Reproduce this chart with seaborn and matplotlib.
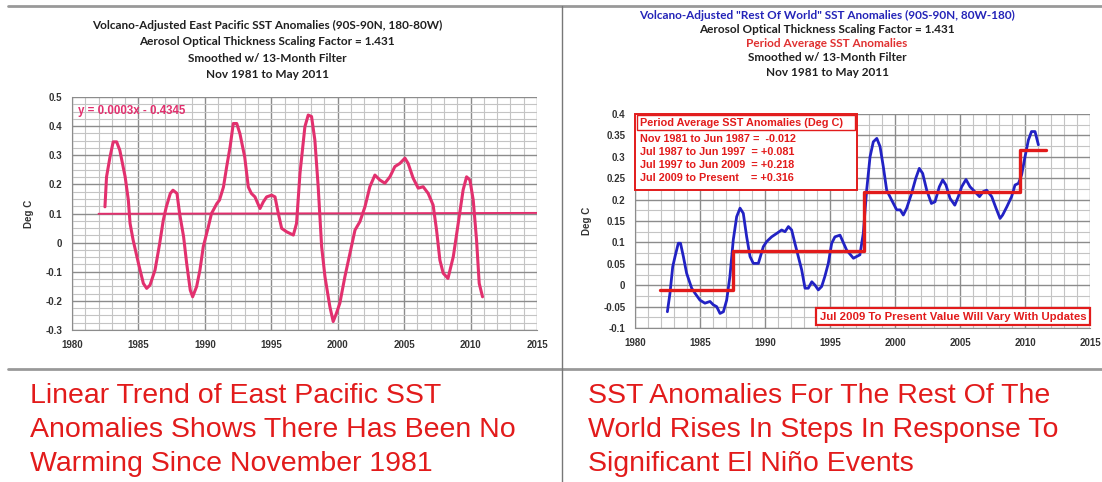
import seaborn as sns
import matplotlib.pyplot as plt
from matplotlib.lines import Line2D
from matplotlib.patches import Rectangle
from matplotlib.ticker import MultipleLocator, FuncFormatter
from matplotlib import font_manager

## 데이터 : East Pacific (왼쪽)
ep_year = [1982.48, 1982.6, 1982.86, 1983.1, 1983.36, 1983.6, 1984.0, 1984.24, 1984.37, 1984.6,
           1985.0, 1985.37, 1985.62, 1985.87, 1986.25, 1986.6, 1986.87, 1987.1, 1987.4, 1987.6,
           1987.9, 1988.1, 1988.4, 1988.63, 1988.9, 1989.08, 1989.38, 1989.63, 1989.88, 1990.26,
           1990.5, 1990.9, 1991.1, 1991.4, 1991.64, 1991.9, 1992.14, 1992.4, 1992.64, 1993.0,
           1993.27, 1993.5, 1993.77, 1994.15, 1994.4, 1994.65, 1995.03, 1995.28, 1995.53, 1995.78,
           1996.16, 1996.66, 1996.9, 1997.16, 1997.53, 1997.78, 1998.03, 1998.28, 1998.53, 1998.79,
           1999.04, 1999.41, 1999.66, 1999.9, 2000.16, 2000.54, 2000.92, 2001.3, 2001.67, 2002.05,
           2002.42, 2002.8, 2003.17, 2003.55, 2003.93, 2004.3, 2004.68, 2005.06, 2005.3, 2005.68,
           2006.06, 2006.43, 2006.81, 2007.18, 2007.44, 2007.69, 2007.94, 2008.3, 2008.7, 2009.07,
           2009.44, 2009.7, 2009.95, 2010.2, 2010.45, 2010.65, 2010.9]
ep_anom = [0.123, 0.226, 0.294, 0.346, 0.346, 0.317, 0.226, 0.146, 0.066, 0.009,
           -0.071, -0.14, -0.157, -0.146, -0.094, -0.003, 0.077, 0.123, 0.169, 0.18,
           0.169, 0.1, 0.02, -0.071, -0.163, -0.186, -0.151, -0.094, -0.014, 0.054,
           0.1, 0.134, 0.146, 0.191, 0.26, 0.329, 0.409, 0.409, 0.374, 0.294,
           0.191, 0.169, 0.157, 0.117, 0.14, 0.157, 0.163, 0.157, 0.1, 0.049,
           0.037, 0.026, 0.066, 0.238, 0.398, 0.438, 0.433, 0.352, 0.192, -0.014,
           -0.117, -0.22, -0.271, -0.243, -0.208, -0.117, -0.037, 0.043, 0.072, 0.123,
           0.192, 0.232, 0.215, 0.204, 0.226, 0.261, 0.272, 0.29, 0.272, 0.221,
           0.187, 0.192, 0.169, 0.129, 0.043, -0.06, -0.105, -0.123, -0.048, 0.066,
           0.181, 0.226, 0.215, 0.146, 0.009, -0.14, -0.186]
trend_year = [1982.0, 2015.0]
trend_val = [0.099, 0.102]
trend_label = "y = 0.0003x - 0.4345"

## 데이터 : Rest Of World (오른쪽)
row_year = [1982.49, 1982.69, 1982.9, 1983.08, 1983.33, 1983.5, 1983.72, 1983.97, 1984.36, 1984.62,
            1985.0, 1985.38, 1985.77, 1986.03, 1986.28, 1986.54, 1986.8, 1987.05, 1987.3, 1987.56,
            1987.82, 1988.08, 1988.33, 1988.59, 1988.85, 1989.1, 1989.49, 1989.87, 1990.13, 1990.51,
            1990.9, 1991.28, 1991.54, 1991.8, 1992.05, 1992.3, 1992.56, 1992.82, 1993.08, 1993.33,
            1993.6, 1993.85, 1994.1, 1994.36, 1994.6, 1994.87, 1995.13, 1995.38, 1995.77, 1996.28,
            1996.8, 1997.3, 1997.56, 1997.82, 1998.08, 1998.33, 1998.6, 1998.85, 1999.1, 1999.36,
            1999.74, 2000.13, 2000.4, 2000.64, 2000.9, 2001.28, 2001.6, 2001.87, 2002.13, 2002.44,
            2002.8, 2003.08, 2003.41, 2003.67, 2003.92, 2004.23, 2004.6, 2004.87, 2005.13, 2005.46,
            2005.77, 2006.03, 2006.5, 2006.8, 2007.05, 2007.44, 2007.77, 2008.08, 2008.28, 2008.6,
            2008.97, 2009.23, 2009.5, 2009.74, 2010.0, 2010.26, 2010.5, 2010.77, 2011.03]
row_anom = [-0.062, -0.019, 0.043, 0.067, 0.098, 0.098, 0.067, 0.028, -0.007, -0.019,
            -0.035, -0.042, -0.038, -0.046, -0.05, -0.066, -0.062, -0.035, 0.02, 0.106,
            0.16, 0.18, 0.168, 0.113, 0.067, 0.051, 0.051, 0.09, 0.102, 0.113,
            0.121, 0.129, 0.125, 0.137, 0.129, 0.098, 0.067, 0.036, -0.007, -0.007,
            0.008, 0.0, -0.011, -0.003, 0.02, 0.051, 0.098, 0.113, 0.117, 0.082,
            0.063, 0.071, 0.121, 0.222, 0.3, 0.335, 0.343, 0.324, 0.277, 0.222,
            0.199, 0.176, 0.176, 0.164, 0.18, 0.215, 0.25, 0.273, 0.261, 0.222,
            0.191, 0.195, 0.23, 0.246, 0.234, 0.203, 0.187, 0.207, 0.23, 0.247,
            0.23, 0.222, 0.207, 0.219, 0.222, 0.207, 0.18, 0.156, 0.164, 0.183,
            0.207, 0.234, 0.238, 0.258, 0.3, 0.339, 0.359, 0.359, 0.328]
step_year = [1981.9, 1987.5, 1987.5, 1997.6, 1997.6, 2009.6, 2009.6, 2011.6]
step_val = [-0.012, -0.012, 0.081, 0.081, 0.218, 0.218, 0.316, 0.316]
period_rows = ["Nov 1981 to Jun 1987 =  -0.012",
               "Jul 1987 to Jun 1997  = +0.081",
               "Jul 1997 to Jun 2009  = +0.218",
               "Jul 2009 to Present    = +0.316"]

## 제목 / 설명문
left_title = ["Volcano-Adjusted East Pacific SST Anomalies (90S-90N, 180-80W)",
              "Aerosol Optical Thickness Scaling Factor = 1.431",
              "Smoothed w/ 13-Month Filter",
              "Nov 1981 to May 2011"]
right_title = ["Volcano-Adjusted \"Rest Of World\" SST Anomalies (90S-90N, 80W-180)",
               "Aerosol Optical Thickness Scaling Factor = 1.431",
               "Period Average SST Anomalies",
               "Smoothed w/ 13-Month Filter",
               "Nov 1981 to May 2011"]
right_title_colors = ["#2424b8", "#202020", "#e03030", "#202020", "#202020"]
left_caption = ["Linear Trend of East Pacific SST",
                "Anomalies Shows There Has Been No",
                "Warming Since November 1981"]
right_caption = ["SST Anomalies For The Rest Of The",
                 "World Rises In Steps In Response To",
                 "Significant El Niño Events"]

sns.set_style("white")
installed = {f.name for f in font_manager.fontManager.ttflist}
if "Liberation Sans Narrow" in installed:
    cap_font, cap_size = "Liberation Sans Narrow", 24
else:
    cap_font, cap_size = "Liberation Sans", 20.5
title_font = "Lato" if "Lato" in installed else "DejaVu Sans"
plt.rcParams['font.family'] = ['Liberation Sans', 'DejaVu Sans']

PINK = "#e2306e"
BLUE = "#2222c4"
RED = "#e21b1b"

W, H = 1102, 482
fig = plt.figure(figsize=(W / 100, H / 100), dpi=100)


def px_axes(x0, y0, x1, y1):
    return fig.add_axes([x0 / W, 1 - y1 / H, (x1 - x0) / W, (y1 - y0) / H])


def style_axes(ax, ylo, yhi, ymaj, ymin):
    ax.set_xlim(1980, 2015)
    ax.set_ylim(ylo, yhi)
    ax.xaxis.set_major_locator(MultipleLocator(5))
    ax.xaxis.set_minor_locator(MultipleLocator(1))
    ax.yaxis.set_major_locator(MultipleLocator(ymaj))
    ax.yaxis.set_minor_locator(MultipleLocator(ymin))
    ax.yaxis.set_major_formatter(FuncFormatter(lambda v, p: f"{round(v, 3):g}"))
    ax.grid(which='major', color='#8c8c8c', lw=1.0)
    ax.grid(which='minor', color='#c4c4c4', lw=0.8)
    ax.set_axisbelow(True)
    for s in ax.spines.values():
        s.set_visible(False)
    ax.spines['left'].set_visible(True)
    ax.spines['bottom'].set_visible(True)
    ax.spines['left'].set_color('#8c8c8c')
    ax.spines['bottom'].set_color('#8c8c8c')
    ax.tick_params(which='both', length=0, labelsize=7, colors='#333333', pad=7)
    for t in ax.get_xticklabels() + ax.get_yticklabels():
        t.set_fontweight('bold')
    ax.set_xlabel("")
    ax.set_ylabel("Deg C", fontsize=7, fontweight='bold', color='#333333', labelpad=8)


## 왼쪽 그래프
ax1 = px_axes(72, 97, 537, 330)
sns.lineplot(x=trend_year, y=trend_val, ax=ax1, color=PINK, lw=1.4, estimator=None, sort=False)
sns.lineplot(x=ep_year, y=ep_anom, ax=ax1, color=PINK, lw=2.2, estimator=None, sort=False)
style_axes(ax1, -0.3, 0.5, 0.1, 0.025)
ax1.text(0.012, 0.965, trend_label, transform=ax1.transAxes, color=PINK,
         fontsize=8.3, fontweight='bold', va='top', ha='left')

## 오른쪽 그래프
ax2 = px_axes(635, 114, 1090, 328)
sns.lineplot(x=row_year, y=row_anom, ax=ax2, color=BLUE, lw=2.0, estimator=None, sort=False)
sns.lineplot(x=step_year, y=step_val, ax=ax2, color=RED, lw=2.4, estimator=None, sort=False)
style_axes(ax2, -0.1, 0.4, 0.05, 0.025)

# 기간 평균 박스
ax2.add_patch(Rectangle((0.0, 0.645), 0.488, 0.355, transform=ax2.transAxes,
                        facecolor='white', edgecolor=RED, lw=1.4, zorder=5, clip_on=False))
ax2.add_patch(Rectangle((0.005, 0.925), 0.478, 0.07, transform=ax2.transAxes,
                        facecolor='white', edgecolor=RED, lw=1.0, zorder=6, clip_on=False))
ax2.text(0.01, 0.96, "Period Average SST Anomalies (Deg C)", transform=ax2.transAxes,
         color=RED, fontsize=7.8, fontweight='bold', va='center', ha='left', zorder=7)
for i, row in enumerate(period_rows):
    ax2.text(0.012, 0.885 - i * 0.062, row, transform=ax2.transAxes, color=RED,
             fontsize=7.8, fontweight='bold', va='center', ha='left', zorder=7)
ax2.text(0.992, 0.03, "Jul 2009 To Present Value Will Vary With Updates", transform=ax2.transAxes,
         color=RED, fontsize=8.2, fontweight='bold', va='bottom', ha='right', zorder=7,
         bbox=dict(boxstyle='square,pad=0.3', facecolor='white', edgecolor=RED, lw=1.6))

## 제목
for i, line in enumerate(left_title):
    fig.text(267 / W, 1 - (25 + i * 16.5) / H, line, ha='center', va='center',
             fontsize=8.5, fontweight='bold', color='#202020', family=title_font)
for i, line in enumerate(right_title):
    fig.text(827 / W, 1 - (15 + i * 14.3) / H, line, ha='center', va='center',
             fontsize=8.5, fontweight='bold', color=right_title_colors[i], family=title_font)

## 아래 설명문
for i, line in enumerate(left_caption):
    fig.text(30 / W, 1 - (396 + i * 34) / H, line, ha='left', va='center',
             fontsize=cap_size, color=RED, family=cap_font)
for i, line in enumerate(right_caption):
    fig.text(588 / W, 1 - (396 + i * 34) / H, line, ha='left', va='center',
             fontsize=cap_size, color=RED, family=cap_font)

## 칸 나누는 선
fig.add_artist(Line2D([8 / W, 1], [1 - 6 / H, 1 - 6 / H], color='#999999', lw=2))
fig.add_artist(Line2D([8 / W, 1], [1 - 369 / H, 1 - 369 / H], color='#999999', lw=2))
fig.add_artist(Line2D([562 / W, 562 / W], [0, 1 - 6 / H], color='#777777', lw=1))

fig.savefig("out.png", dpi=100)
